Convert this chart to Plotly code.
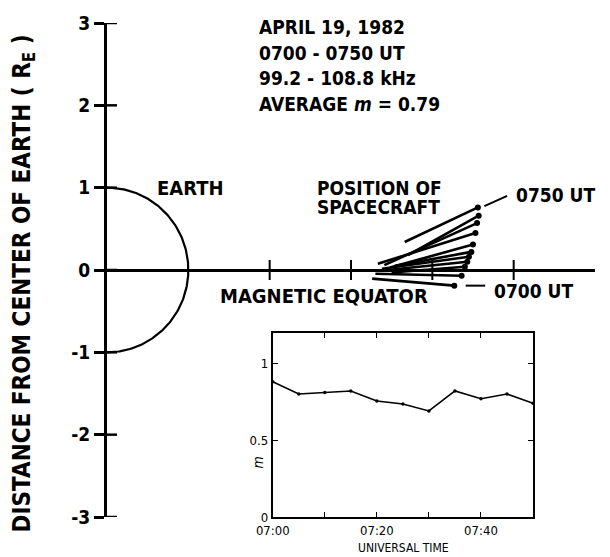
import numpy as np
import plotly.graph_objects as go

# ---- data -----------------------------------------------------------------
# spacecraft positions (R_E) at 5-minute steps, 0700 -> 0750 UT
obs_times = ["0700", "0705", "0710", "0715", "0720", "0725",
             "0730", "0735", "0740", "0745", "0750"]
sc_x = [4.27, 4.36, 4.40, 4.43, 4.45, 4.48, 4.50, 4.53, 4.55, 4.57, 4.56]
sc_y = [-0.19, -0.07, 0.04, 0.10, 0.16, 0.22, 0.31, 0.45, 0.57, 0.66, 0.76]
# far end of each direction line
dir_x = [3.26, 3.30, 3.50, 3.45, 3.38, 3.54, 3.48, 3.33, 3.41, 3.70, 3.66]
dir_y = [-0.105, -0.045, -0.03, 0.0, 0.015, 0.05, 0.03, 0.075, 0.06, 0.18, 0.34]

# modulation index m versus universal time
ut_labels = ["07:00", "07:05", "07:10", "07:15", "07:20", "07:25",
             "07:30", "07:35", "07:40", "07:45", "07:50"]
m_values = [0.88, 0.80, 0.81, 0.82, 0.755, 0.735, 0.69, 0.82, 0.77, 0.80, 0.74]

y_ticks = [-3, -2, -1, 0, 1, 2, 3]
y_ticktext = ["-3", "-2", "-1", "0", "1", "2", "3"]
x_ticks = [2, 3, 4, 5]
inset_ticks = ["07:00", "07:20", "07:40"]

FONT = "DejaVu Sans Condensed"
BLACK = "#000000"
day = "1982-04-19 "

fig = go.Figure()

# Earth (unit half circle)
theta = np.linspace(-np.pi / 2, np.pi / 2, 200)
fig.add_trace(go.Scatter(x=np.cos(theta), y=np.sin(theta), mode="lines",
                         line=dict(color=BLACK, width=2.2), hoverinfo="skip"))

# direction lines from each spacecraft position
lx, ly = [], []
for x0, y0, x1, y1 in zip(dir_x, dir_y, sc_x, sc_y):
    lx += [x0, x1, None]
    ly += [y0, y1, None]
fig.add_trace(go.Scatter(x=lx, y=ly, mode="lines",
                         line=dict(color=BLACK, width=2.6), hoverinfo="skip"))
fig.add_trace(go.Scatter(x=sc_x, y=sc_y, mode="markers", text=obs_times,
                         marker=dict(color=BLACK, size=6)))

# inset: m vs time
fig.add_trace(go.Scatter(x=[day + t for t in ut_labels], y=m_values,
                         mode="lines+markers", xaxis="x2", yaxis="y2",
                         line=dict(color=BLACK, width=1.6),
                         marker=dict(color=BLACK, size=3.5)))

# crossing tick marks on the main axes
shapes = []
for v in y_ticks:
    shapes.append(dict(type="line", xref="x", yref="y", xsizemode="pixel",
                       xanchor=0, x0=-10, x1=10, y0=v, y1=v,
                       line=dict(color=BLACK, width=2.5)))
for v in x_ticks:
    shapes.append(dict(type="line", xref="x", yref="y", ysizemode="pixel",
                       yanchor=0, y0=-10, y1=10, x0=v, x1=v,
                       line=dict(color=BLACK, width=2)))
# leaders to the time labels
shapes.append(dict(type="line", xref="x", yref="y", x0=4.64, y0=0.775,
                   x1=4.92, y1=0.90, line=dict(color=BLACK, width=2)))
shapes.append(dict(type="line", xref="x", yref="y", x0=4.41, y0=-0.19,
                   x1=4.65, y1=-0.19, line=dict(color=BLACK, width=2)))


def label(text, x, y, size=19, **kw):
    d = dict(text=text, x=x, y=y, xref="x", yref="y", showarrow=False,
             xanchor="left", yanchor="middle",
             font=dict(family=FONT, size=size, color=BLACK, weight="bold"))
    d.update(kw)
    return d


annotations = [
    label("APRIL 19, 1982", 1.84, 2.95),
    label("0700 - 0750 UT", 1.84, 2.64),
    label("99.2 - 108.8 kHz", 1.84, 2.33),
    label("AVERAGE <i>m</i> = 0.79", 1.84, 2.02),
    label("EARTH", 0.59, 0.99, 20),
    label("POSITION OF", 2.56, 1.0),
    label("SPACECRAFT", 2.56, 0.76),
    label("0750 UT", 5.00, 0.91),
    label("0700 UT", 4.73, -0.25),
    label("MAGNETIC EQUATOR", 1.37, -0.31, 20),
    dict(text="DISTANCE FROM CENTER OF EARTH ( R<sub>E</sub> )",
         xref="paper", yref="paper", x=-0.172, y=0.473, textangle=-90,
         showarrow=False, xanchor="center", yanchor="middle",
         font=dict(family=FONT, size=24, color=BLACK, weight="bold")),
    dict(text="UNIVERSAL TIME", xref="paper", yref="paper", x=0.607,
         y=-0.062, showarrow=False, xanchor="center", yanchor="middle",
         font=dict(family=FONT, size=12, color=BLACK)),
    dict(text="<i>m</i>", xref="paper", yref="paper", x=0.309, y=0.11,
         textangle=-90, showarrow=False, xanchor="center", yanchor="middle",
         font=dict(family=FONT, size=14, color=BLACK)),
]

fig.update_layout(
    width=610, height=557,
    margin=dict(l=107, r=15, t=16, b=40),
    paper_bgcolor="white", plot_bgcolor="white",
    showlegend=False,
    xaxis=dict(range=[0, 6], showgrid=False, zeroline=False,
               showline=True, linecolor=BLACK, linewidth=3,
               anchor="free", position=0.5, ticks="",
               showticklabels=False, fixedrange=True),
    yaxis=dict(range=[-3, 3], showgrid=False, zeroline=False,
               showline=True, linecolor=BLACK, linewidth=3,
               tickvals=y_ticks, ticktext=y_ticktext,
               ticks="outside", ticklen=10, tickwidth=2.5, tickcolor=BLACK,
               tickfont=dict(family=FONT, size=19, color=BLACK,
                             weight="bold")),
    xaxis2=dict(domain=[0.3396, 0.873], anchor="y2", type="date",
                range=[day + "07:00", day + "07:50"],
                tickvals=[day + t for t in inset_ticks],
                ticktext=inset_ticks, ticks="inside", ticklen=5,
                tickcolor=BLACK,
                minor=dict(ticks="inside", ticklen=5, dtick=600000,
                           tickcolor=BLACK, showgrid=False),
                showline=True, linecolor=BLACK, linewidth=2,
                mirror="ticks", showgrid=False, zeroline=False,
                tickfont=dict(family=FONT, size=13, color=BLACK)),
    yaxis2=dict(domain=[0, 0.3733], anchor="x2", range=[0, 1.2],
                tickvals=[0, 0.5, 1], ticktext=["0", "0.5", "1"],
                ticks="inside", ticklen=5, tickcolor=BLACK,
                showline=True, linecolor=BLACK, linewidth=2, mirror="ticks",
                showgrid=False, zeroline=False,
                tickfont=dict(family=FONT, size=13, color=BLACK)),
    shapes=shapes,
    annotations=annotations,
)

fig.write_html("out.html")
